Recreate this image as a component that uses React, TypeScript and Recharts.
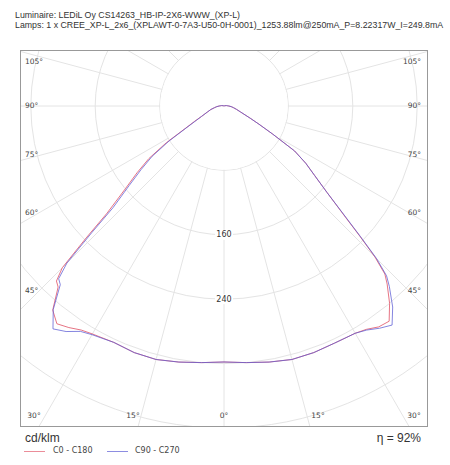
import { PolarAngleAxis, PolarGrid, PolarRadiusAxis, Radar, RadarChart } from "recharts";

// gamma angles (deg from nadir) shared by all four half-planes
const gammaDeg = [
  0, 5, 10, 15, 20, 25, 30, 32.5, 35, 37.5, 40, 42.5, 43.75, 45, 46.25, 47.5, 50, 52.5, 55, 57.5,
  60, 62.5, 65, 70, 75, 80, 85, 90, 95, 100, 110, 120, 130, 140, 150, 160, 170, 180,
];
// cd/klm, right half
const c0 = [
  318, 320, 323, 326, 326, 325, 326, 329, 335, 337, 320, 300, 289, 265, 233, 205, 167, 142, 124, 104,
  70, 49, 36, 22, 16, 12, 9, 6, 4, 3, 1, 0, 0, 0, 0, 0, 0, 0,
];
const c90 = [
  318, 320, 323, 326, 326, 325, 326, 330, 337, 343, 326, 304, 292, 268, 235, 207, 167, 142, 124, 104,
  70, 49, 36, 22, 16, 12, 9, 6, 4, 3, 1, 0, 0, 0, 0, 0, 0, 0,
];
// cd/klm, left half
const c180 = [
  318, 320, 323, 326, 326, 324, 327, 330, 336, 341, 331, 305, 301, 284, 237, 197, 160, 136, 114, 85,
  55, 41, 31, 22, 17, 12, 9, 6, 4, 3, 1, 0, 0, 0, 0, 0, 0, 0,
];
const c270 = [
  318, 320, 323, 326, 326, 324, 328, 332, 342, 349, 330, 301, 297, 276, 227, 187, 154, 130, 109, 81,
  53, 39, 31, 22, 17, 12, 9, 6, 4, 3, 1, 0, 0, 0, 0, 0, 0, 0,
];

const gridAngles = [0, 15, 30, 45, 60, 75, 90, 105, 120, 135, 150, 165, 180, 195, 210, 225, 240, 255, 270, 285, 300, 315, 330, 345];
const ringLabels = [160, 240];
const sideLabels = ["105°", "90°", "75°", "60°", "45°"];
const bottomLabels = ["30°", "15°", "0°", "15°", "30°"];

const RED = "#e25c6e";
const BLUE = "#5c5cd4";

// layout
const BOX_W = 408;
const BOX_H = 377;
const CX = 204;
const CY = 56;
const R_MAX = 480;
const OUTER = R_MAX * 0.805;
const INNER_RING = (80 / R_MAX) * OUTER;

const sideY = [62, 106, 155, 213, 291];
const bottomX = [34, 133, 224, 318, 414];

// angle axis runs 0..360: 0..180 = C0/C90 side, 180..360 = C180/C270 side
const rows: { angle: number; red: number; blue: number }[] = [];
gammaDeg.forEach((g, i) => rows.push({ angle: g, red: c0[i], blue: c90[i] }));
for (let i = gammaDeg.length - 2; i >= 1; i--) {
  rows.push({ angle: 360 - gammaDeg[i], red: c180[i], blue: c270[i] });
}

const RingTick = (props: any) => {
  const { x, y, payload } = props;
  if (!ringLabels.includes(payload.value)) return <g />;
  return (
    <g>
      <rect x={x - 9} y={y - 5} width={18} height={10} fill="#fff" />
      <text x={x} y={y} textAnchor="middle" dominantBaseline="central" fontSize={8} fill="#333" fontFamily="DejaVu Sans">
        {payload.value}
      </text>
    </g>
  );
};

const small = { position: "absolute" as const, fontFamily: "DejaVu Sans", fontSize: 7.5, color: "#444", lineHeight: "10px", whiteSpace: "nowrap" as const };
const title = { position: "absolute" as const, left: 15, fontSize: 8.8, lineHeight: "10px", color: "#333", whiteSpace: "nowrap" as const };

export default function App() {
  return (
    <div style={{ position: "absolute", left: 0, top: 0, width: 450, height: 465, background: "#fff", fontFamily: "Liberation Sans, Arial" }}>
      <div style={{ ...title, top: 10 }}>Luminaire: LEDiL Oy CS14263_HB-IP-2X6-WWW_(XP-L)</div>
      <div style={{ ...title, top: 19.5 }}>
        Lamps: 1 x CREE_XP-L_2x6_(XPLAWT-0-7A3-U50-0H-0001)_1253.88lm@250mA_P=8.22317W_I=249.8mA
      </div>

      <div style={{ position: "absolute", left: 20, top: 50, width: BOX_W, height: BOX_H, overflow: "hidden" }}>
        <RadarChart width={BOX_W} height={BOX_H} data={rows} cx={CX} cy={CY} outerRadius={OUTER} startAngle={-90} endAngle={270} margin={{ top: 0, right: 0, bottom: 0, left: 0 }}>
          <PolarGrid gridType="circle" stroke="#e4e4e4" />
          <PolarAngleAxis dataKey="angle" type="number" domain={[0, 360]} ticks={gridAngles} tick={false} axisLine={false} />
          <PolarRadiusAxis angle={-90} type="number" domain={[0, R_MAX]} tickCount={7} axisLine={false} tickLine={false} tick={RingTick} />
          <circle cx={CX} cy={CY} r={INNER_RING - 0.6} fill="#fff" />
          <Radar dataKey="red" stroke={RED} strokeOpacity={0.85} strokeWidth={1} fill="none" dot={false} isAnimationActive={false} />
          <Radar dataKey="blue" stroke={BLUE} strokeOpacity={0.75} strokeWidth={1} fill="none" dot={false} isAnimationActive={false} />
        </RadarChart>
      </div>
      <div style={{ position: "absolute", left: 20, top: 50, width: BOX_W, height: BOX_H, border: "1px solid #999", boxSizing: "border-box", pointerEvents: "none" }} />

      {sideLabels.map((t, i) => (
        <div key={"l" + i} style={{ ...small, left: 25, top: sideY[i] - 5 }}>{t}</div>
      ))}
      {sideLabels.map((t, i) => (
        <div key={"r" + i} style={{ ...small, right: 29, top: sideY[i] - 5 }}>{t}</div>
      ))}
      {bottomLabels.map((t, i) => (
        <div key={"b" + i} style={{ ...small, left: bottomX[i] - 20, width: 40, textAlign: "center", top: 411 }}>{t}</div>
      ))}

      <div style={{ position: "absolute", left: 25, top: 431, fontSize: 12, lineHeight: "14px", color: "#333" }}>cd/klm</div>
      <div style={{ position: "absolute", right: 29, top: 431, fontSize: 12, lineHeight: "14px", color: "#333" }}>η = 92%</div>

      <div style={{ position: "absolute", left: 24, top: 451, width: 21, height: 1, background: RED, opacity: 0.7 }} />
      <div style={{ ...small, fontSize: 8, left: 53, top: 446 }}>C0 - C180</div>
      <div style={{ position: "absolute", left: 107, top: 451, width: 21, height: 1, background: BLUE, opacity: 0.7 }} />
      <div style={{ ...small, fontSize: 8, left: 135, top: 446 }}>C90 - C270</div>
    </div>
  );
}
